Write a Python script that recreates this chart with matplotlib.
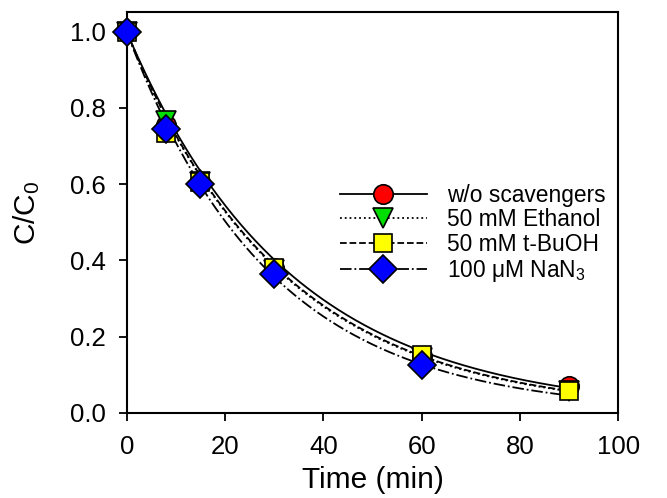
import numpy as np
import matplotlib
matplotlib.use("Agg")
import matplotlib.pyplot as plt

plt.rcParams['font.family'] = ['Liberation Sans', 'DejaVu Sans']
plt.rcParams['mathtext.fontset'] = 'custom'
plt.rcParams['mathtext.rm'] = 'Liberation Sans'
plt.rcParams['mathtext.it'] = 'Liberation Sans:italic'

time_min = [0, 8, 15, 30, 60, 90]
no_scavenger = [1.0, 0.755, 0.605, 0.38, 0.148, 0.071]
ethanol = [1.0, 0.765, 0.605, 0.375, 0.145, 0.058]
tbuoh = [1.0, 0.735, 0.605, 0.38, 0.152, 0.058]
nan3 = [1.0, 0.745, 0.60, 0.365, 0.126, np.nan]

labels = ["w/o scavengers", "50 mM Ethanol", "50 mM t-BuOH", r"100 μM NaN$_{\mathregular{3}}$"]
markers = ["o", "v", "s", "D"]
colors = ["#ff0000", "#00dd00", "#ffff00", "#0000ff"]
linestyles = ["-", ":", "--", "-."]
marker_sizes = [14, 14, 13, 14]

fig = plt.figure(figsize=(6.67, 4.98), dpi=100)
ax = fig.add_axes([0.190, 0.171, 0.737, 0.805])

t = np.array(time_min, dtype=float)
t_fine = np.linspace(0, 90, 300)
handles = []
for y, lab, m, c, ls, ms in zip([no_scavenger, ethanol, tbuoh, nan3], labels, markers, colors, linestyles, marker_sizes):
    yv = np.array(y, dtype=float)
    ok = ~np.isnan(yv)
    # pseudo-first-order fit: ln(C/C0) = -k t
    k = -np.sum(t[ok] * np.log(yv[ok])) / np.sum(t[ok] ** 2)
    ax.plot(t_fine, np.exp(-k * t_fine), color="black", linestyle=ls, linewidth=1.3, zorder=2)
    ax.plot(t[ok], yv[ok], linestyle="none", marker=m, markersize=ms, markerfacecolor=c,
            markeredgecolor="black", markeredgewidth=1.2, clip_on=False, zorder=3)
    h, = ax.plot([], [], color="black", linestyle=ls, linewidth=1.3, marker=m, markersize=ms,
                 markerfacecolor=c, markeredgecolor="black", markeredgewidth=1.2, label=lab)
    handles.append(h)

ax.set_xlim(0, 100)
ax.set_ylim(0, 1.052)
ax.set_xticks([0, 20, 40, 60, 80, 100])
ax.set_yticks([0.0, 0.2, 0.4, 0.6, 0.8, 1.0])
ax.set_yticklabels(["0.0", "0.2", "0.4", "0.6", "0.8", "1.0"])
ax.tick_params(axis="x", direction="out", length=6, width=1.3, labelsize=18.5, pad=10,
               top=False)
ax.tick_params(axis="y", direction="out", length=6, width=1.3, labelsize=18.5, pad=9,
               right=False)
for sp in ax.spines.values():
    sp.set_linewidth(1.5)

ax.set_xlabel("Time (min)", fontsize=21.5, labelpad=5)
ax.set_ylabel(r"C/C$_{\mathregular{0}}$", fontsize=21.5, labelpad=20)

leg = ax.legend(handles=handles, loc="upper left", bbox_to_anchor=(0.434, 0.572),
                frameon=False, fontsize=16.4, handlelength=3.8, handletextpad=0.9,
                labelspacing=0.08, borderaxespad=0, borderpad=0)

fig.savefig("out.png", dpi=100)
